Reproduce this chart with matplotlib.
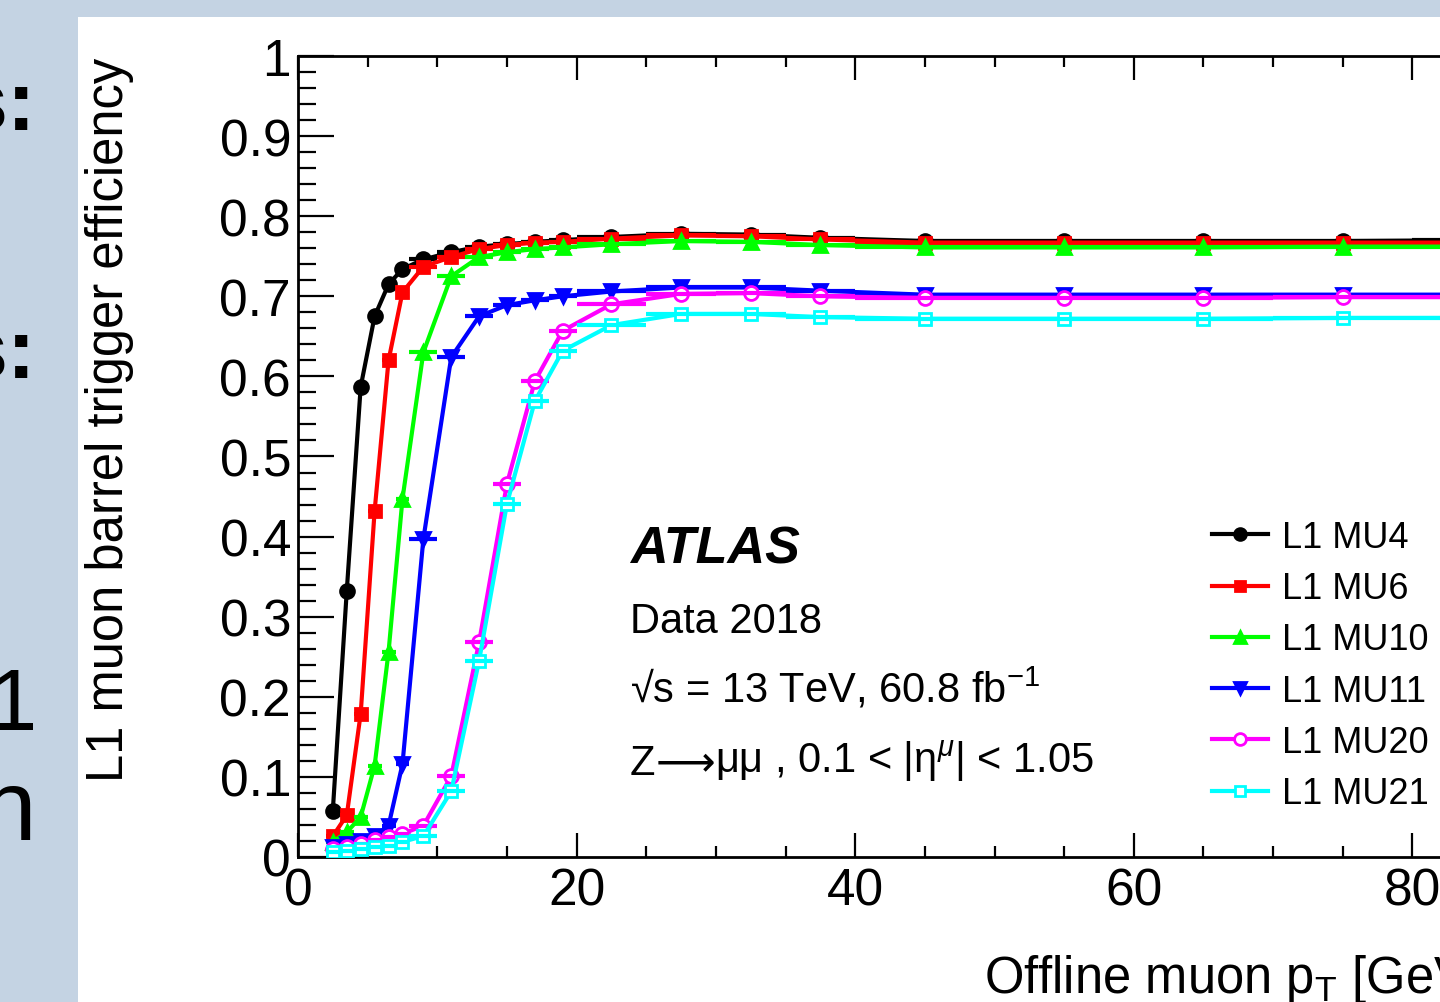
import matplotlib
matplotlib.use("Agg")
import matplotlib.pyplot as plt
import numpy as np
from matplotlib.patches import Rectangle
from matplotlib.ticker import MultipleLocator, FuncFormatter

plt.rcParams['font.family'] = ['Liberation Sans', 'DejaVu Sans']
plt.rcParams['mathtext.fontset'] = 'custom'
plt.rcParams['mathtext.rm'] = 'Liberation Sans'
plt.rcParams['mathtext.it'] = 'Liberation Sans:italic'
plt.rcParams['mathtext.bf'] = 'Liberation Sans:bold'

# bin edges of offline muon pT [GeV]
pt_edges = [2, 3, 4, 5, 6, 7, 8, 10, 12, 14, 16, 18, 20, 25, 30, 35, 40, 50, 60, 70, 80, 90, 100]

# efficiencies
eff_mu4 = [0.058, 0.332, 0.587, 0.675, 0.715, 0.734, 0.746, 0.755, 0.762, 0.765, 0.768,
           0.770, 0.774, 0.778, 0.777, 0.773, 0.769, 0.769, 0.769, 0.769, 0.770, 0.770]
eff_mu6 = [0.026, 0.052, 0.179, 0.432, 0.620, 0.705, 0.737, 0.749, 0.759, 0.764, 0.767,
           0.768, 0.772, 0.776, 0.775, 0.771, 0.767, 0.767, 0.767, 0.767, 0.767, 0.767]
eff_mu10 = [0.019, 0.031, 0.050, 0.114, 0.256, 0.447, 0.630, 0.725, 0.749, 0.755, 0.759,
            0.761, 0.765, 0.769, 0.768, 0.764, 0.761, 0.761, 0.761, 0.762, 0.762, 0.762]
eff_mu11 = [0.012, 0.016, 0.020, 0.026, 0.039, 0.116, 0.397, 0.624, 0.675, 0.689, 0.695,
            0.700, 0.706, 0.711, 0.711, 0.707, 0.702, 0.702, 0.702, 0.702, 0.702, 0.702]
eff_mu20 = [0.010, 0.012, 0.016, 0.021, 0.025, 0.029, 0.039, 0.101, 0.268, 0.466, 0.594,
            0.657, 0.690, 0.703, 0.704, 0.700, 0.698, 0.698, 0.698, 0.699, 0.699, 0.699]
eff_mu21 = [0.006, 0.008, 0.010, 0.012, 0.014, 0.019, 0.026, 0.082, 0.245, 0.441, 0.569,
            0.632, 0.664, 0.678, 0.678, 0.674, 0.672, 0.672, 0.672, 0.673, 0.673, 0.673]

labels = ['L1 MU4', 'L1 MU6', 'L1 MU10', 'L1 MU11', 'L1 MU20', 'L1 MU21']
series = [eff_mu4, eff_mu6, eff_mu10, eff_mu11, eff_mu20, eff_mu21]
colors = ['black', '#ff0000', '#00ff00', '#0000ff', '#ff00ff', '#00ffff']
markers = ['o', 's', '^', 'v', 'o', 's']
filled = [True, True, True, True, False, False]

edges = np.array(pt_edges, dtype=float)
pt = 0.5 * (edges[1:] + edges[:-1])
pt_half = 0.5 * (edges[1:] - edges[:-1])

W, H = 1440, 1003
def fx(p):
    return p / W
def fy(p):
    return 1 - p / H

fig = plt.figure(figsize=(14.4, 10.03), dpi=100)
fig.patch.set_facecolor('#c4d3e3')

# white slide panel holding the plot
fig.patches.append(Rectangle((fx(78), 0), 1 - fx(78), fy(18), transform=fig.transFigure,
                             facecolor='white', edgecolor='none', zorder=-5))

# cut-off slide text on the left
fig.text(fx(36), fy(130), 's:', fontsize=62, fontweight='bold', ha='right', va='baseline')
fig.text(fx(36), fy(378), 's:', fontsize=62, fontweight='bold', ha='right', va='baseline')
fig.text(fx(38), fy(730), 'L1', fontsize=63, ha='right', va='baseline')
fig.text(fx(36), fy(840), 'n', fontsize=72, ha='right', va='baseline')

# axes run past the right edge of the picture (only 0-82 GeV is visible)
ax = fig.add_axes([fx(298), 1 - 858 / H, 1393 / W, 801 / H])
ax.set_zorder(2)
ax.set_xlim(0, 100)
ax.set_ylim(0, 1)

for i, (eff, lab, c, m, f) in enumerate(zip(series, labels, colors, markers, filled)):
    ax.plot(pt, eff, color=c, lw=3, marker=m, ms=10 if m != 's' else 9,
            markerfacecolor=c if f else 'white', markeredgecolor=c, markeredgewidth=2,
            label=lab, zorder=3 + i)
    ax.errorbar(pt, eff, xerr=pt_half, fmt='none', ecolor=c, elinewidth=3, capsize=0,
                zorder=3 + i)

for s in ax.spines.values():
    s.set_linewidth(2)

ax.xaxis.set_major_locator(MultipleLocator(20))
ax.xaxis.set_minor_locator(MultipleLocator(5))
ax.yaxis.set_major_locator(MultipleLocator(0.1))
ax.yaxis.set_minor_locator(MultipleLocator(0.02))
ax.yaxis.set_major_formatter(FuncFormatter(lambda v, p: '%g' % round(v, 2)))
ax.tick_params(axis='x', which='major', direction='in', length=17, width=1.6, top=True,
               labelsize=37, pad=7)
ax.tick_params(axis='x', which='minor', direction='in', length=8, width=1.6, top=True)
ax.tick_params(axis='y', which='major', direction='in', length=26, width=1.6, right=True,
               labelsize=37, pad=5)
ax.tick_params(axis='y', which='minor', direction='in', length=13, width=1.6, right=True)

fig.text(fx(110), fy(58), 'L1 muon barrel trigger efficiency', rotation=90,
         fontsize=36.5, ha='center', va='top')
fig.text(fx(984), fy(993), r'Offline muon p$_\mathregular{T}$ [GeV]', fontsize=36.5,
         ha='left', va='baseline')

fig.text(fx(630), fy(563), 'ATLAS', fontsize=37.5, fontweight='bold', style='italic',
         va='baseline', zorder=5)
fig.text(fx(630), fy(633), 'Data 2018', fontsize=30, va='baseline', zorder=5)
fig.text(fx(630), fy(703), r'√s = 13 TeV, 60.8 fb$^{\mathregular{-1}}$', fontsize=30,
         va='baseline', zorder=5)

# Z -> mu mu line, long arrow taken from DejaVu Sans
t_z = fig.text(fx(630), fy(775), 'Z', fontsize=30, va='baseline', zorder=5)
t_arr = ax.annotate('⟶', xy=(1, 0), xycoords=t_z, fontsize=30, family='DejaVu Sans',
                    va='bottom', ha='left', annotation_clip=False, zorder=5)
ax.annotate(r'μμ , 0.1 < |η$^{μ}$| < 1.05', xy=(1, 0), xycoords=t_arr, fontsize=30,
            va='bottom', ha='left', annotation_clip=False, zorder=5)

ax.legend(loc='upper left', bbox_to_anchor=(fx(1212), fy(521)), bbox_transform=fig.transFigure,
          frameon=False, fontsize=26, handlelength=1.55, handletextpad=0.4,
          labelspacing=0.45, borderpad=0, borderaxespad=0, markerscale=0.85)

fig.savefig('out.png', dpi=100, facecolor=fig.get_facecolor())
